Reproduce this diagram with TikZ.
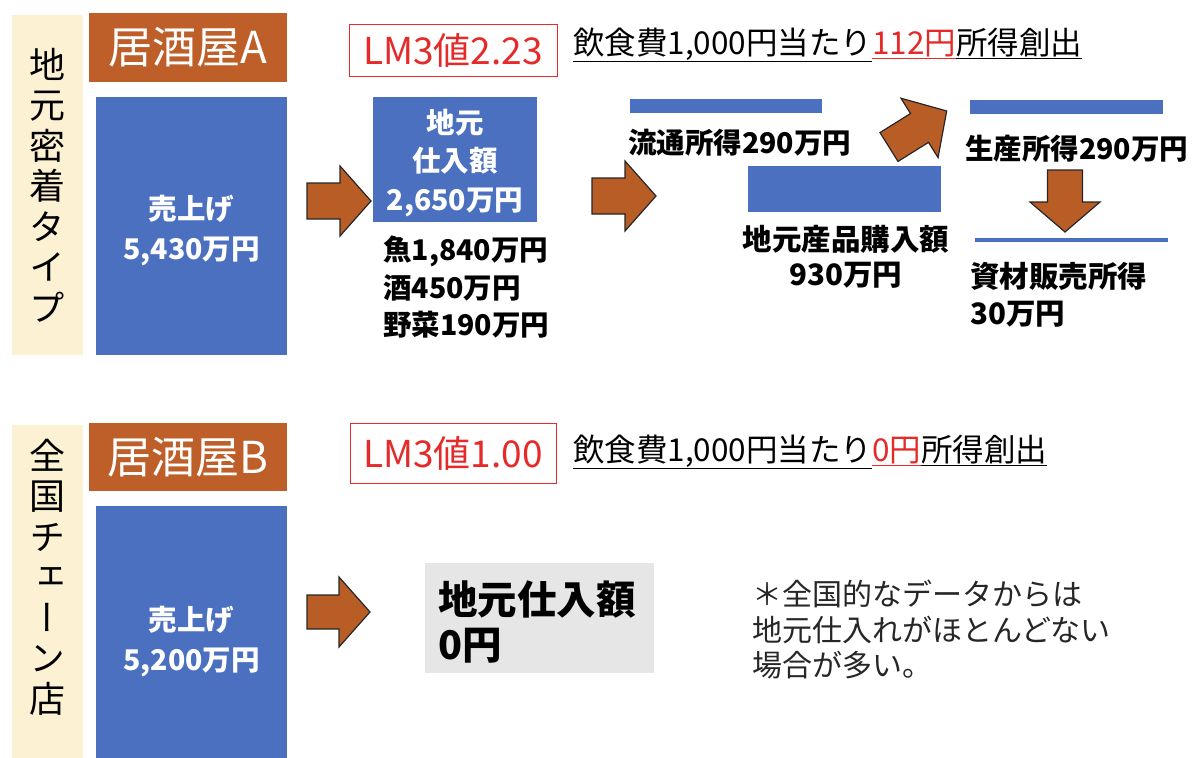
\documentclass[tikz,border=0pt]{standalone}
\usepackage{fontspec}
\setmainfont{Noto Sans CJK JP}
\newfontfamily\vfont[RawFeature=+vert]{Noto Sans CJK JP}
\definecolor{brownbox}{HTML}{BE5E28}
\definecolor{arrowbrown}{HTML}{B95D27}
\definecolor{bluebox}{HTML}{4A70BF}
\definecolor{beige}{HTML}{FDF1D3}
\definecolor{grayfill}{HTML}{E6E6E6}
\definecolor{redtext}{HTML}{E52A2A}
\newcommand\fs[2]{\fontsize{#1}{#2}\selectfont}
\newcommand\ul[1]{\underline{\vphantom{円}#1}}
\newcommand\blockarrow[6]{%
  \draw[barrow, shift={#1}, rotate=#2]
    (0,-#6/2) -- (#3-#4,-#6/2) -- (#3-#4,-#5/2) -- (#3,0) --
    (#3-#4,#5/2) -- (#3-#4,#6/2) -- (0,#6/2) -- cycle;}
\tikzset{
  barrow/.style={fill=arrowbrown, draw=black!85, line width=1.2pt, line join=miter},
  beigebox/.style={fill=beige, inner sep=0pt, align=center},
  shopbox/.style={fill=brownbox, text=white, inner sep=0pt, font=\fs{44}{48}},
  salesbox/.style={fill=bluebox, text=white, inner sep=0pt, align=center, font=\bfseries\fs{28.5}{40}},
  bar/.style={fill=bluebox, inner sep=0pt},
  lmbox/.style={draw=redtext, line width=0.9pt, text=redtext, inner sep=0pt, font=\fs{37}{40}},
  headline/.style={anchor=west, inner sep=0pt, font=\fs{31.5}{34}},
  label/.style={inner sep=0pt, font=\bfseries\fs{28.5}{37.5}},
}
\begin{document}
\begin{tikzpicture}[x=1pt,y=-1pt]
\useasboundingbox (0,0) rectangle (1192,758);
% ---------- upper half ----------
\node[beigebox, minimum width=71pt, minimum height=340pt] (sideA) at (47.5,185) {};
\node[font=\vfont\fs{36}{40.5}, align=center, inner sep=0pt] (sideAt) at (47.5,185) {地\\元\\密\\着\\タ\\イ\\プ};
\node[shopbox, minimum width=198pt, minimum height=69pt] (shopA) at (188,47.5) {居酒屋A};
\node[salesbox, minimum width=191pt, minimum height=258pt] (salesA) at (191.5,226) {};
\node[salesbox] (salesAt) at (191.5,231) {売上げ\\5,430万円};
\node[lmbox, minimum width=208pt, minimum height=52pt] (lmA) at (453,50) {LM3値2.23};
\node[headline] (headA) at (573,45) {\ul{飲食費1,000円当たり}\textcolor{redtext}{\ul{112円}}\ul{所得創出}};
\blockarrow{(307,201)}{0}{64}{31}{70}{36}
\node[salesbox, minimum width=164pt, minimum height=125pt] (localA) at (455,159.5) {};
\node[salesbox, font=\bfseries\fs{28.5}{38.5}] (localAt) at (455,163) {地元\\仕入額\\2,650万円};
\node[label, anchor=north west, align=left] (items) at (383,236) {魚1,840万円\\酒450万円\\野菜190万円};
\blockarrow{(592,196)}{0}{64}{31}{70}{36}
\node[bar, minimum width=192pt, minimum height=14pt] (bar1) at (726,106) {};
\node[label, anchor=west] (dist) at (628,143) {流通所得290万円};
\node[bar, minimum width=193pt, minimum height=46pt] (bar2) at (844.5,189) {};
\node[label, align=center, font=\bfseries\fs{29.5}{35}] (buy) at (846,257) {地元産品購入額\\930万円};
\blockarrow{(889,147)}{32}{68}{32}{70}{34}
\node[bar, minimum width=193pt, minimum height=14pt] (bar3) at (1066.5,107) {};
\node[label, anchor=west] (prod) at (965,149) {生産所得290万円};
\blockarrow{(1065,170)}{-90}{62}{30}{70}{35}
\node[bar, minimum width=193pt, minimum height=3.5pt] (bar4) at (1071.5,240) {};
\node[label, anchor=north west, align=left, font=\bfseries\fs{29.5}{37}] (mat) at (970,262) {資材販売所得\\30万円};
% ---------- lower half ----------
\node[beigebox, minimum width=71pt, minimum height=340pt] (sideB) at (47.5,595) {};
\node[font=\vfont\fs{36}{40.5}, align=center, inner sep=0pt] (sideBt) at (47.5,577) {全\\国\\チ\\ェ\\ー\\ン\\店};
\node[shopbox, minimum width=198pt, minimum height=68pt] (shopB) at (188,457) {居酒屋B};
\node[salesbox, minimum width=191pt, minimum height=268pt] (salesB) at (191.5,640) {};
\node[salesbox] (salesBt) at (191.5,642) {売上げ\\5,200万円};
\node[lmbox, minimum width=206pt, minimum height=60pt] (lmB) at (453,453) {LM3値1.00};
\node[headline] (headB) at (573,452) {\ul{飲食費1,000円当たり}\textcolor{redtext}{\ul{0円}}\ul{所得創出}};
\blockarrow{(307,612)}{0}{63}{31}{70}{34}
\node[fill=grayfill, minimum width=229pt, minimum height=110pt, inner sep=0pt] (grayB) at (539.5,618) {};
\node[anchor=west, align=left, inner sep=0pt, font=\bfseries\fs{39.5}{45}] (grayBt) at (438,622) {地元仕入額\\0円};
\node[anchor=north west, align=left, inner sep=0pt, text=black!85, font=\fs{30}{35.5}] (note) at (752,580) {＊全国的なデータからは\\地元仕入れがほとんどない\\場合が多い。};
\end{tikzpicture}
\end{document}
